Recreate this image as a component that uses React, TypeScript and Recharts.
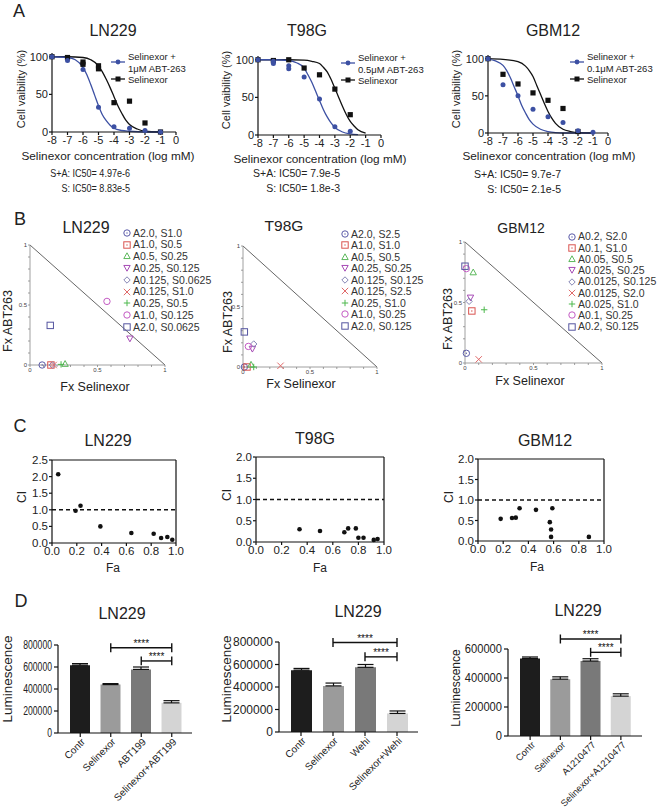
import React from 'react'
import {
  ComposedChart, ScatterChart, BarChart, Line, Scatter, Bar, Cell, XAxis, YAxis,
  ErrorBar, ReferenceLine, Legend,
} from 'recharts'

const FONT = '"Liberation Sans", Arial, Helvetica, sans-serif'
const INK = '#222'
const BLUE = '#3c50a3'

// ---------- A: dose response (log mM, % viability) ----------
const lnComboX = [-8, -7, -6, -5, -4, -3, -2, -1]
const lnComboY = [100, 95, 83, 33, 7, 5, 2, 0]
const lnSelX = [-8, -7, -6, -6, -5, -5, -4, -3, -2, -1]
const lnSelY = [100, 99, 93, 90, 88, 84, 39, 41, 12, 0]
const lnComboFitX = [-8, -7, -6.5, -6, -5.75, -5.5, -5.25, -5, -4.75, -4.5, -4.25, -4, -3.5, -3, -2, -1]
const lnComboFitY = [100, 99, 96, 86, 76, 63, 49, 35, 23, 15, 9, 5, 2, 1, 0, 0]
const lnSelFitX = [-8, -7, -6, -5.5, -5, -4.75, -4.5, -4.25, -4, -3.75, -3.5, -3.25, -3, -2.5, -2, -1]
const lnSelFitY = [100, 100, 99, 96, 88, 80, 70, 59, 47, 35, 25, 16, 10, 4, 1, 0]

const tComboX = [-8, -7, -7, -6, -6, -5, -4, -3, -2]
const tComboY = [100, 98, 95, 92, 88, 77, 48, 11, 5]
const tSelX = [-8, -7, -6, -5, -4, -3, -2]
const tSelY = [100, 99, 100, 89, 80, 61, 27]
const tComboFitX = [-8, -7, -6, -5.5, -5, -4.75, -4.5, -4.25, -4, -3.75, -3.5, -3.25, -3, -2.5, -2, -1.5]
const tComboFitY = [100, 100, 99, 96, 89, 80, 70, 58, 46, 34, 24, 16, 10, 4, 1.5, 0.5]
const tSelFitX = [-8, -6, -5, -4.5, -4, -3.75, -3.5, -3.25, -3, -2.75, -2.5, -2.25, -2, -1.75, -1.5, -1]
const tSelFitY = [100, 100, 99.5, 98, 95, 90, 84, 74, 62, 50, 38, 27, 18, 12, 7, 2.5]

const gComboX = [-8, -7, -6, -5, -4, -3, -2, -1]
const gComboY = [100, 65, 50, 32, 22, 14, 3, 1]
const gSelX = [-8, -7, -6, -5, -4, -3, -2]
const gSelY = [100, 79, 66, 54, 44, 33, 2]
const gComboFitX = [-8, -7.5, -7, -6.75, -6.5, -6.25, -6, -5.75, -5.5, -5.25, -5, -4.5, -4, -3.5, -3, -2, -1]
const gComboFitY = [99, 97, 91, 84, 74, 62, 50, 37, 27, 18, 12, 5, 2, 0.5, 0, 0, 0]
const gSelFitX = [-8, -7, -6, -5.5, -5.25, -5, -4.75, -4.5, -4.25, -4, -3.75, -3.5, -3, -2.5, -2, -1]
const gSelFitY = [100, 99, 96, 90, 84, 76, 64, 52, 40, 29, 20, 13, 5, 2, 0.5, 0]

const logTicks = [-8, -7, -6, -5, -4, -3, -2, -1, 0]

// ---------- B: isobolograms ----------
const isoLN229 = ['A2.0, S1.0', 'A1.0, S0.5', 'A0.5, S0.25', 'A0.25, S0.125', 'A0.125, S0.0625', 'A0.125, S1.0', 'A0.25, S0.5', 'A1.0, S0.125', 'A2.0, S0.0625']
const isoLN229S = [0.09, 0.155, 0.26, 0.74, 0.165, 0.175, 0.23, 0.57, 0.15]
const isoLN229A = [0, 0, 0.01, 0.22, 0, 0, 0.005, 0.53, 0.33]
const isoT98G = ['A2.0, S2.5', 'A1.0, S1.0', 'A0.5, S0.5', 'A0.25, S0.25', 'A0.125, S0.125', 'A0.125, S2.5', 'A0.25, S1.0', 'A1.0, S0.25', 'A2.0, S0.125']
const isoT98GS = [0.01, 0.03, 0.06, 0.07, 0.08, 0.28, 0.08, 0.04, 0.01]
const isoT98GA = [0, 0, 0.02, 0.15, 0.19, 0.01, 0, 0.17, 0.29]
const isoGBM = ['A0.2, S2.0', 'A0.1, S1.0', 'A0.05, S0.5', 'A0.025, S0.25', 'A0.0125, S0.125', 'A0.0125, S2.0', 'A0.025, S1.0', 'A0.1, S0.25', 'A0.2, S0.125']
const isoGBMS = [0.01, 0.05, 0.06, 0.04, 0.03, 0.1, 0.14, 0.01, 0]
const isoGBMA = [0.08, 0.43, 0.75, 0.54, 0.51, 0.03, 0.44, 0.78, 0.8]

const symKinds = ['circdot', 'sqdot', 'tri', 'tridown', 'diamond', 'x', 'plus', 'circle', 'square']
const symColors = ['#5a5aa8', '#d9534f', '#5cb85c', '#a64ab5', '#8585b5', '#e06a6a', '#4cb84c', '#c45bc4', '#5555a0']
const fxTicks = [0, 0.1, 0.2, 0.3, 0.4, 0.5, 0.6, 0.7, 0.8, 0.9, 1]

// ---------- C: combination index ----------
const ciLNFa = [0.05, 0.19, 0.23, 0.39, 0.64, 0.82, 0.88, 0.93, 0.97]
const ciLN = [2.07, 0.97, 1.12, 0.5, 0.3, 0.28, 0.15, 0.18, 0.1]
const ciTFa = [0.34, 0.5, 0.69, 0.72, 0.78, 0.8, 0.84, 0.92, 0.95]
const ciT = [0.3, 0.26, 0.23, 0.32, 0.32, 0.1, 0.1, 0.05, 0.07]
const ciGFa = [0.18, 0.27, 0.3, 0.33, 0.46, 0.57, 0.59, 0.58, 0.58, 0.88]
const ciG = [0.54, 0.56, 0.57, 0.8, 0.76, 0.46, 0.8, 0.28, 0.1, 0.1]
const faTicks = [0, 0.2, 0.4, 0.6, 0.8, 1]

// ---------- D: luminescence bars ----------
const d1Cats = ['Contr', 'Selinexor', 'ABT199', 'Selinexor+ABT199']
const d1Vals = [617000, 440000, 578000, 274000]
const d1Err = [14000, 9000, 22000, 20000]
const d1SigFrom = ['Selinexor', 'ABT199']
const d1SigY = [775000, 655000]

const d2Cats = ['Contr', 'Selinexor', 'Wehi', 'Selinexor+Wehi']
const d2Vals = [550000, 410000, 575000, 165000]
const d2Err = [15000, 25000, 25000, 22000]
const d2SigFrom = ['Selinexor', 'Wehi']
const d2SigY = [795000, 668000]

const d3Cats = ['Contr', 'Selinexor', 'A1210477', 'Selinexor+A1210477']
const d3Vals = [535000, 392000, 517000, 275000]
const d3Err = [10000, 16000, 16000, 16000]
const d3SigFrom = ['Selinexor', 'A1210477']
const d3SigY = [669000, 577000]

const barColors = ['#1d1d1d', '#9b9b9b', '#797979', '#d4d4d4']

// ---------- helpers ----------
type Rect = { x0: number; y0: number; x1: number; y1: number }

function frame(r: Rect, yw: number, mt: number, mr: number, xh: number) {
  return {
    left: r.x0 - yw,
    top: r.y0 - mt,
    width: r.x1 - r.x0 + yw + mr,
    height: r.y1 - r.y0 + mt + xh,
    margin: { top: mt, right: mr, bottom: 0, left: 0 },
    yw,
    xh,
  }
}

const pts = (xs: number[], ys: number[]) => xs.map((x, i) => ({ x, y: ys[i] }))

function Label({ x, y, size = 11, anchor = 'middle', rotate = 0, sx = 1, color = INK, children }: any) {
  const tx = anchor === 'middle' ? '-50%' : anchor === 'end' ? '-100%' : '0'
  const origin = anchor === 'middle' ? 'center' : anchor === 'end' ? 'right center' : 'left center'
  return (
    <div
      style={{
        position: 'absolute', left: x, top: y, fontSize: size, lineHeight: 1, whiteSpace: 'nowrap', color,
        transform: `translate(${tx},-50%) rotate(${rotate}deg) scaleX(${sx})`, transformOrigin: origin,
      }}
    >
      {children}
    </div>
  )
}

const axisBlack = { stroke: '#111', strokeWidth: 1.2 }

function Sym({ kind, color, cx, cy, s = 3.2 }: any) {
  const st = { fill: 'none', stroke: color, strokeWidth: 1 }
  switch (kind) {
    case 'circdot':
      return <g><circle cx={cx} cy={cy} r={s} {...st} /><circle cx={cx} cy={cy} r={0.7} fill={color} /></g>
    case 'sqdot':
      return <g><rect x={cx - s} y={cy - s} width={2 * s} height={2 * s} {...st} /><circle cx={cx} cy={cy} r={0.7} fill={color} /></g>
    case 'tri':
      return <polygon points={`${cx},${cy - s} ${cx + s},${cy + s * 0.8} ${cx - s},${cy + s * 0.8}`} {...st} />
    case 'tridown':
      return <polygon points={`${cx - s},${cy - s * 0.8} ${cx + s},${cy - s * 0.8} ${cx},${cy + s}`} {...st} />
    case 'diamond':
      return <polygon points={`${cx},${cy - s} ${cx + s},${cy} ${cx},${cy + s} ${cx - s},${cy}`} {...st} />
    case 'x':
      return <path d={`M${cx - s},${cy - s}L${cx + s},${cy + s}M${cx - s},${cy + s}L${cx + s},${cy - s}`} {...st} />
    case 'plus':
      return <path d={`M${cx - s},${cy}L${cx + s},${cy}M${cx},${cy - s}L${cx},${cy + s}`} {...st} />
    case 'circle':
      return <circle cx={cx} cy={cy} r={s} {...st} />
    default:
      return <rect x={cx - s} y={cy - s} width={2 * s} height={2 * s} {...st} />
  }
}

// ---------- A ----------
function DoseLegend({ dose }: { dose: string }) {
  return (
    <div style={{ position: 'relative', width: 112, height: 34, fontSize: 9.5, lineHeight: 1, color: INK, whiteSpace: 'nowrap' }}>
      <svg width={16} height={34} style={{ position: 'absolute', left: 0, top: 0 }}>
        <line x1={1} x2={15} y1={11} y2={11} stroke={BLUE} strokeWidth={1.3} />
        <circle cx={8} cy={11} r={2.4} fill={BLUE} />
        <line x1={1} x2={15} y1={28} y2={28} stroke="#111" strokeWidth={1.3} />
        <rect x={5.5} y={25.5} width={5} height={5} fill="#111" />
      </svg>
      <div style={{ position: 'absolute', left: 18, top: 1 }}>Selinexor +</div>
      <div style={{ position: 'absolute', left: 18, top: 13 }}>{dose} ABT-263</div>
      <div style={{ position: 'absolute', left: 18, top: 23.5 }}>Selinexor</div>
    </div>
  )
}

function DoseChart({ plot, combo, sel, comboFit, selFit, legendAt, dose }: any) {
  const f = frame(plot, 40, 8, 8, 20)
  const circ = (p: any) => <circle cx={p.cx} cy={p.cy} r={2.5} fill={BLUE} />
  const sq = (p: any) => <rect x={p.cx - 2.6} y={p.cy - 2.6} width={5.2} height={5.2} fill="#111" />
  return (
    <div style={{ position: 'absolute', left: f.left, top: f.top }}>
      <ComposedChart width={f.width} height={f.height} margin={f.margin}>
        <XAxis type="number" dataKey="x" domain={[-8, 0]} ticks={logTicks} interval={0} height={f.xh}
          tick={{ fontSize: 11, fill: INK }} tickSize={3} tickMargin={1} axisLine={axisBlack} tickLine={axisBlack} />
        <YAxis type="number" domain={[0, 105]} ticks={[0, 50, 100]} interval={0} width={f.yw}
          tick={{ fontSize: 11, fill: INK }} tickSize={3} tickMargin={1} axisLine={axisBlack} tickLine={axisBlack} />
        <Line data={selFit} dataKey="y" type="monotone" dot={false} stroke="#111" strokeWidth={1.3} isAnimationActive={false} />
        <Line data={comboFit} dataKey="y" type="monotone" dot={false} stroke={BLUE} strokeWidth={1.3} isAnimationActive={false} />
        <Scatter data={sel} dataKey="y" shape={sq} isAnimationActive={false} />
        <Scatter data={combo} dataKey="y" shape={circ} isAnimationActive={false} />
        <Legend layout="vertical" align="center" verticalAlign="middle"
          wrapperStyle={{ left: legendAt[0] - f.left, top: legendAt[1] - f.top, width: 112 }}
          content={() => <DoseLegend dose={dose} />} />
      </ComposedChart>
    </div>
  )
}

// ---------- B ----------
const fxFmt = (v: number) => (v === 0 ? '0' : v === 0.5 ? '0.5' : v === 1 ? '1' : '')

function IsoLegend({ names, step }: { names: string[]; step: number }) {
  return (
    <div style={{ width: 100, fontSize: 10.5, lineHeight: 1, color: '#333', whiteSpace: 'nowrap' }}>
      {names.map((n, i) => (
        <div key={n} style={{ display: 'flex', alignItems: 'center', height: step }}>
          <svg width={10} height={10} style={{ flex: 'none' }}>
            <Sym kind={symKinds[i]} color={symColors[i]} cx={5} cy={5} />
          </svg>
          <span style={{ marginLeft: 1 }}>{n}</span>
        </div>
      ))}
    </div>
  )
}

function IsoChart({ plot, names, fxS, fxA, legendAt, step }: any) {
  const f = frame(plot, 30, 6, 6, 16)
  const axis = { stroke: '#888', strokeWidth: 0.8 }
  return (
    <div style={{ position: 'absolute', left: f.left, top: f.top }}>
      <ScatterChart width={f.width} height={f.height} margin={f.margin}>
        <XAxis type="number" dataKey="x" domain={[0, 1]} ticks={fxTicks} interval={0} tickFormatter={fxFmt} height={f.xh}
          tick={{ fontSize: 6, fill: '#444' }} tickSize={2} tickMargin={1} axisLine={axis} tickLine={axis} />
        <YAxis type="number" dataKey="y" domain={[0, 1]} ticks={fxTicks} interval={0} tickFormatter={fxFmt} width={f.yw}
          tick={{ fontSize: 6, fill: '#444' }} tickSize={2} tickMargin={1} axisLine={axis} tickLine={axis} />
        <ReferenceLine segment={[{ x: 0, y: 1 }, { x: 1, y: 0 }]} stroke="#666" strokeWidth={1} />
        {names.map((n: string, i: number) => (
          <Scatter key={n} name={n} data={[{ x: fxS[i], y: fxA[i] }]} isAnimationActive={false}
            shape={(p: any) => <Sym kind={symKinds[i]} color={symColors[i]} cx={p.cx} cy={p.cy} />} />
        ))}
        <Legend layout="vertical" align="center" verticalAlign="middle"
          wrapperStyle={{ left: legendAt[0] - f.left, top: legendAt[1] - f.top, width: 100 }}
          content={() => <IsoLegend names={names} step={step} />} />
      </ScatterChart>
    </div>
  )
}

// ---------- C ----------
function CIChart({ plot, fa, ci, yMax, yTicks }: any) {
  const f = frame(plot, 40, 8, 8, 20)
  const dot = (p: any) => <circle cx={p.cx} cy={p.cy} r={2.3} fill="#111" />
  return (
    <div style={{ position: 'absolute', left: f.left, top: f.top }}>
      <ScatterChart width={f.width} height={f.height} margin={f.margin}>
        <XAxis type="number" dataKey="x" domain={[0, 1]} ticks={faTicks} interval={0} height={f.xh}
          tickFormatter={(v: number) => v.toFixed(1)} tick={{ fontSize: 11.5, fill: INK }}
          tickSize={3} tickMargin={1} axisLine={axisBlack} tickLine={axisBlack} />
        <YAxis type="number" dataKey="y" domain={[0, yMax]} ticks={yTicks} interval={0} width={f.yw}
          tickFormatter={(v: number) => v.toFixed(1)} tick={{ fontSize: 11.5, fill: INK }}
          tickSize={3} tickMargin={1} axisLine={axisBlack} tickLine={axisBlack} />
        <ReferenceLine y={yMax} stroke="#111" strokeWidth={1.2} />
        <ReferenceLine x={1} stroke="#111" strokeWidth={1.2} />
        <ReferenceLine y={1} stroke="#111" strokeWidth={1.5} strokeDasharray="4 3" />
        <Scatter data={pts(fa, ci)} shape={dot} isAnimationActive={false} />
      </ScatterChart>
    </div>
  )
}

// ---------- D ----------
function scaledYTick(sx: number) {
  return (p: any) => (
    <text transform={`translate(${p.x},${p.y}) scale(${sx},1)`} textAnchor="end" dominantBaseline="central"
      fontSize={12} fill={INK}>
      {p.payload.value}
    </text>
  )
}

function rotTick(fs: number) {
  return (p: any) => (
    <text transform={`translate(${p.x + 3},${p.y + 1}) rotate(-45)`} textAnchor="end" dominantBaseline="central"
      fontSize={fs} fill={INK}>
      {p.payload.value}
    </text>
  )
}

const starLabel = { value: '****', position: 'top' as const, fontSize: 10, fill: '#111', stroke: 'none', offset: 1 }

function BarPanel({ plot, cats, vals, errs, sigFrom, sigY, cap, yMax, yTicks, pad, barSize, sx, fs }: any) {
  const f = frame(plot, 60, 35, 10, 810 - plot.y1)
  const rows = cats.map((c: string, i: number) => ({ name: c, value: vals[i], err: [0, errs[i]] }))
  const last = cats[cats.length - 1]
  const line = { stroke: '#111', strokeWidth: 1.4, ifOverflow: 'visible' as const }
  return (
    <div style={{ position: 'absolute', left: f.left, top: f.top }}>
      <BarChart width={f.width} height={f.height} margin={f.margin} data={rows}>
        <XAxis dataKey="name" interval={0} padding={pad} height={f.xh} tick={rotTick(fs)}
          tickSize={4} tickMargin={2} axisLine={axisBlack} tickLine={axisBlack} />
        <YAxis type="number" domain={[0, yMax]} ticks={yTicks} interval={0} width={f.yw} tick={scaledYTick(sx)}
          tickSize={4} tickMargin={2} axisLine={axisBlack} tickLine={axisBlack} />
        <Bar dataKey="value" barSize={barSize} isAnimationActive={false}>
          {rows.map((r: any, i: number) => <Cell key={r.name} fill={barColors[i]} />)}
          <ErrorBar dataKey="err" width={8} stroke="#111" strokeWidth={1.2} direction="y" isAnimationActive={false} />
        </Bar>
        {sigY.map((y: number, i: number) => (
          <ReferenceLine key={`h${i}`} segment={[{ x: sigFrom[i], y }, { x: last, y }]} {...line} label={starLabel} />
        ))}
        {sigY.map((y: number, i: number) => (
          <ReferenceLine key={`a${i}`} segment={[{ x: sigFrom[i], y: y - cap }, { x: sigFrom[i], y: y + cap }]} {...line} />
        ))}
        {sigY.map((y: number, i: number) => (
          <ReferenceLine key={`b${i}`} segment={[{ x: last, y: y - cap }, { x: last, y: y + cap }]} {...line} />
        ))}
      </BarChart>
    </div>
  )
}

const lumTicks8 = [0, 200000, 400000, 600000, 800000]
const lumTicks6 = [0, 200000, 400000, 600000]

export default function App() {
  return (
    <div style={{ position: 'absolute', left: 0, top: 0, width: 660, height: 810, background: '#fff', fontFamily: FONT, color: INK, overflow: 'hidden' }}>
      {/* ---- A ---- */}
      <Label x={19} y={11} size={18}>A</Label>
      <Label x={113} y={31} size={16}>LN229</Label>
      <Label x={307} y={31} size={16}>T98G</Label>
      <Label x={553} y={31} size={16}>GBM12</Label>
      <DoseChart plot={{ x0: 52, y0: 53, x1: 176, y1: 132 }} combo={pts(lnComboX, lnComboY)} sel={pts(lnSelX, lnSelY)}
        comboFit={pts(lnComboFitX, lnComboFitY)} selFit={pts(lnSelFitX, lnSelFitY)} legendAt={[110, 51]} dose="1μM" />
      <DoseChart plot={{ x0: 258, y0: 56, x1: 381, y1: 135 }} combo={pts(tComboX, tComboY)} sel={pts(tSelX, tSelY)}
        comboFit={pts(tComboFitX, tComboFitY)} selFit={pts(tSelFitX, tSelFitY)} legendAt={[340, 52]} dose="0.5μM" />
      <DoseChart plot={{ x0: 488, y0: 55, x1: 608, y1: 133 }} combo={pts(gComboX, gComboY)} sel={pts(gSelX, gSelY)}
        comboFit={pts(gComboFitX, gComboFitY)} selFit={pts(gSelFitX, gSelFitY)} legendAt={[569, 51]} dose="0.1μM" />
      <Label x={21} y={89} size={11} rotate={-90}>Cell vaibility (%)</Label>
      <Label x={226} y={90} size={11} rotate={-90}>Cell vaibility (%)</Label>
      <Label x={456} y={89} size={11} rotate={-90}>Cell vaibility (%)</Label>
      <Label x={108} y={157} size={11.8}>Selinexor concentration (log mM)</Label>
      <Label x={320} y={160} size={11.8}>Selinexor concentration (log mM)</Label>
      <Label x={549} y={157} size={11.8}>Selinexor concentration (log mM)</Label>
      <Label x={130} y={173} size={10.5} anchor="end" sx={0.86}>S+A: IC50= 4.97e-6</Label>
      <Label x={130} y={188} size={10.5} anchor="end" sx={0.86}>S: IC50= 8.83e-5</Label>
      <Label x={340} y={173} size={10.5} anchor="end">S+A: IC50= 7.9e-5</Label>
      <Label x={340} y={188} size={10.5} anchor="end">S: IC50= 1.8e-3</Label>
      <Label x={561} y={174} size={10.5} anchor="end">S+A: IC50= 9.7e-7</Label>
      <Label x={561} y={189} size={10.5} anchor="end">S: IC50= 2.1e-5</Label>

      {/* ---- B ---- */}
      <Label x={20} y={219} size={18}>B</Label>
      <Label x={86} y={228} size={16}>LN229</Label>
      <Label x={284} y={226} size={15.5}>T98G</Label>
      <Label x={521} y={228} size={14}>GBM12</Label>
      <IsoChart plot={{ x0: 30, y0: 245, x1: 165, y1: 365 }} names={isoLN229} fxS={isoLN229S} fxA={isoLN229A} legendAt={[122, 227]} step={11.75} />
      <IsoChart plot={{ x0: 243, y0: 246, x1: 377, y1: 367 }} names={isoT98G} fxS={isoT98GS} fxA={isoT98GA} legendAt={[340, 228]} step={11.5} />
      <IsoChart plot={{ x0: 465, y0: 242, x1: 602, y1: 363 }} names={isoGBM} fxS={isoGBMS} fxA={isoGBMA} legendAt={[567, 231]} step={11.25} />
      <Label x={95} y={387} size={12.5}>Fx Selinexor</Label>
      <Label x={301} y={384} size={12.5}>Fx Selinexor</Label>
      <Label x={530} y={381} size={12.5}>Fx Selinexor</Label>
      <Label x={8} y={321} size={12.5} rotate={-90}>Fx ABT263</Label>
      <Label x={228} y={322} size={12.5} rotate={-90}>Fx ABT263</Label>
      <Label x={448} y={319} size={12.5} rotate={-90}>Fx ABT263</Label>

      {/* ---- C ---- */}
      <Label x={20} y={426} size={18}>C</Label>
      <Label x={108} y={441} size={16}>LN229</Label>
      <Label x={315} y={439} size={16}>T98G</Label>
      <Label x={545} y={441} size={16}>GBM12</Label>
      <CIChart plot={{ x0: 52, y0: 460, x1: 176, y1: 543 }} fa={ciLNFa} ci={ciLN} yMax={2.5} yTicks={[0, 0.5, 1, 1.5, 2, 2.5]} />
      <CIChart plot={{ x0: 256, y0: 457, x1: 384, y1: 542 }} fa={ciTFa} ci={ciT} yMax={2} yTicks={[0, 0.5, 1, 1.5, 2]} />
      <CIChart plot={{ x0: 478, y0: 459, x1: 604, y1: 541 }} fa={ciGFa} ci={ciG} yMax={2} yTicks={[0, 0.5, 1, 1.5, 2]} />
      <Label x={113} y={568} size={12}>Fa</Label>
      <Label x={320} y={568} size={12}>Fa</Label>
      <Label x={537} y={567} size={12}>Fa</Label>
      <Label x={22} y={497} size={12} rotate={-90}>CI</Label>
      <Label x={227} y={495} size={12} rotate={-90}>CI</Label>
      <Label x={449} y={497} size={12} rotate={-90}>CI</Label>

      {/* ---- D ---- */}
      <Label x={21} y={601} size={18}>D</Label>
      <Label x={122} y={614} size={16}>LN229</Label>
      <Label x={358} y={612} size={16}>LN229</Label>
      <Label x={578} y={611} size={16}>LN229</Label>
      <BarPanel plot={{ x0: 58, y0: 645, x1: 192, y1: 733 }} cats={d1Cats} vals={d1Vals} errs={d1Err}
        sigFrom={d1SigFrom} sigY={d1SigY} cap={40000} yMax={800000} yTicks={lumTicks8} pad={{ left: 7, right: 5 }} barSize={20} sx={0.72} fs={10} />
      <BarPanel plot={{ x0: 279, y0: 642, x1: 418, y1: 732 }} cats={d2Cats} vals={d2Vals} errs={d2Err}
        sigFrom={d2SigFrom} sigY={d2SigY} cap={40000} yMax={800000} yTicks={lumTicks8} pad={{ left: 6, right: 5 }} barSize={21} sx={1} fs={10} />
      <BarPanel plot={{ x0: 508, y0: 649, x1: 642, y1: 736 }} cats={d3Cats} vals={d3Vals} errs={d3Err}
        sigFrom={d3SigFrom} sigY={d3SigY} cap={31000} yMax={600000} yTicks={lumTicks6} pad={{ left: 7, right: 6 }} barSize={20} sx={0.93} fs={9.4} />
      <Label x={8} y={679} size={13.5} rotate={-90}>Luminescence</Label>
      <Label x={227} y={679} size={13.5} rotate={-90}>Luminescence</Label>
      <Label x={456} y={688} size={12} rotate={-90}>Luminescence</Label>
    </div>
  )
}
